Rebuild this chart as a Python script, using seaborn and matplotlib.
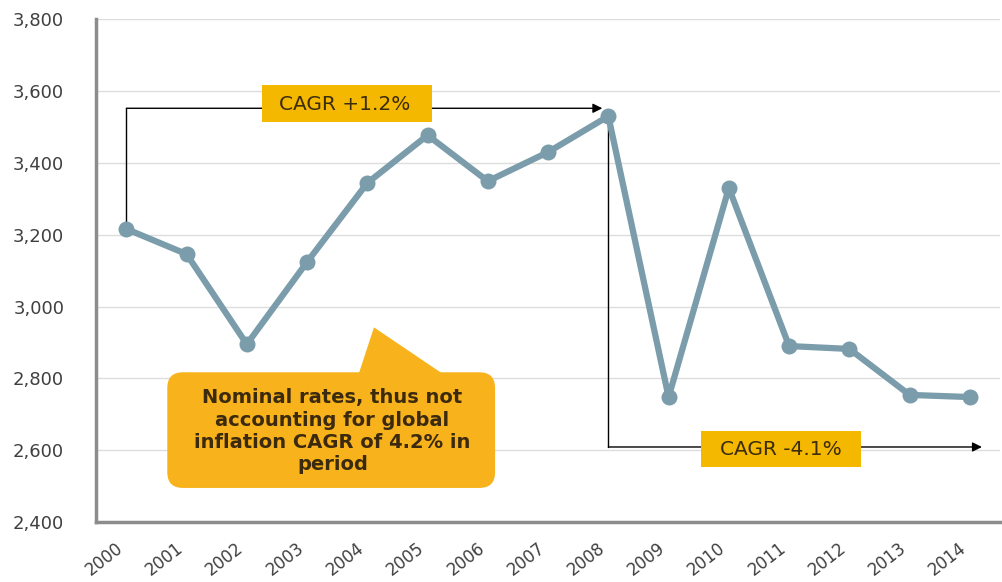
import matplotlib
matplotlib.use("Agg")
import matplotlib.pyplot as plt
from matplotlib.patches import Rectangle, FancyBboxPatch, Polygon
import matplotlib.transforms as mtransforms
import seaborn as sns
import pandas as pd

years = ["2000", "2001", "2002", "2003", "2004", "2005", "2006", "2007",
         "2008", "2009", "2010", "2011", "2012", "2013", "2014"]
values = [3216, 3146, 2895, 3124, 3344, 3477, 3349, 3430,
          3530, 2748, 3330, 2890, 2882, 2754, 2748]
y_ticks = [2400, 2600, 2800, 3000, 3200, 3400, 3600, 3800]
cagr_before = "CAGR +1.2%"
cagr_after = "CAGR -4.1%"
note = "Nominal rates, thus not\naccounting for global\ninflation CAGR of 4.2% in\nperiod"

df = pd.DataFrame({"idx": range(len(years)), "value": values})

sns.set_theme(style="white")
plt.rcParams["font.family"] = ["DejaVu Sans"]

fig = plt.figure(figsize=(10.02, 5.82), dpi=100)
ax = fig.add_axes([0.096, 0.103, 0.902, 0.864])

line_col = "#7b9cab"
sns.lineplot(data=df, x="idx", y="value", ax=ax, color=line_col, linewidth=4.5,
             marker="o", markersize=11.5, markeredgewidth=0, zorder=3)

ax.set_xlim(-0.5, len(years) - 0.5)
ax.set_ylim(y_ticks[0], y_ticks[-1])
ax.set_yticks(y_ticks)
ax.set_yticklabels([f"{v:,}" for v in y_ticks], fontsize=13, color="#404040")
ax.set_xticks(range(len(years)))
ax.set_xticklabels(years, rotation=38, ha="right", rotation_mode="anchor",
                   fontsize=12, color="#404040")
ax.set_xticks([i - 0.5 for i in range(len(years) + 1)], minor=True)
ax.tick_params(axis="x", which="major", length=0, pad=12)
ax.tick_params(axis="x", which="minor", length=5, width=1, color="#999999", direction="out")
ax.tick_params(axis="y", length=5, width=1, color="#999999", direction="out", pad=18)
ax.set_xlabel("")
ax.set_ylabel("")

# nudge the slanted year labels to the left of their slot centres
shift = mtransforms.ScaledTranslation(-11 / 100, 0, fig.dpi_scale_trans)
for lbl in ax.get_xticklabels():
    lbl.set_transform(lbl.get_transform() + shift)

ax.grid(axis="y", color="#dddddd", linewidth=1)
ax.set_axisbelow(True)
for s in ["top", "right"]:
    ax.spines[s].set_visible(False)
for s in ["left", "bottom"]:
    ax.spines[s].set_color("#8c8c8c")
    ax.spines[s].set_linewidth(2.5)

gold = "#f5b800"
ink = "#3b2c0a"

# Growth bracket up to the 2008 peak
ax.plot([0, 0], [values[0], 3552], color="black", lw=1, zorder=2)
ax.annotate("", xy=(7.9, 3552), xytext=(0, 3552),
            arrowprops=dict(arrowstyle="-|>", color="black", lw=1,
                            mutation_scale=14, shrinkA=0, shrinkB=0), zorder=2)
ax.add_patch(Rectangle((2.255, 3513), 2.815, 103, facecolor=gold,
                       edgecolor="none", zorder=4))
ax.text(3.62, 3563, cagr_before, ha="center", va="center", fontsize=14.5,
        color=ink, zorder=5)

# Decline bracket from the 2008 peak
ax.plot([8, 8], [values[8], 2609], color="black", lw=1, zorder=2)
ax.annotate("", xy=(14.2, 2609), xytext=(8, 2609),
            arrowprops=dict(arrowstyle="-|>", color="black", lw=1,
                            mutation_scale=14, shrinkA=0, shrinkB=0), zorder=2)
ax.add_patch(Rectangle((9.54, 2553), 2.66, 100, facecolor=gold,
                       edgecolor="none", zorder=4))
ax.text(10.87, 2601, cagr_after, ha="center", va="center", fontsize=14.5,
        color=ink, zorder=5)

# Speech-bubble note
bubble_col = "#f7b21c"
ax.add_patch(FancyBboxPatch((0.68, 2495), 5.44, 322,
                            boxstyle="round,pad=0,rounding_size=0.26",
                            mutation_aspect=168, facecolor=bubble_col,
                            edgecolor="none", zorder=4))
ax.add_patch(Polygon([(3.86, 2814), (4.11, 2942), (5.24, 2814)], closed=True,
                     facecolor=bubble_col, edgecolor="none", zorder=4))
ax.text(3.42, 2653, note, ha="center", va="center", fontsize=14,
        fontweight="bold", color="#3b2a0e", linespacing=1.22, zorder=5)

fig.savefig("out.png", dpi=100)
